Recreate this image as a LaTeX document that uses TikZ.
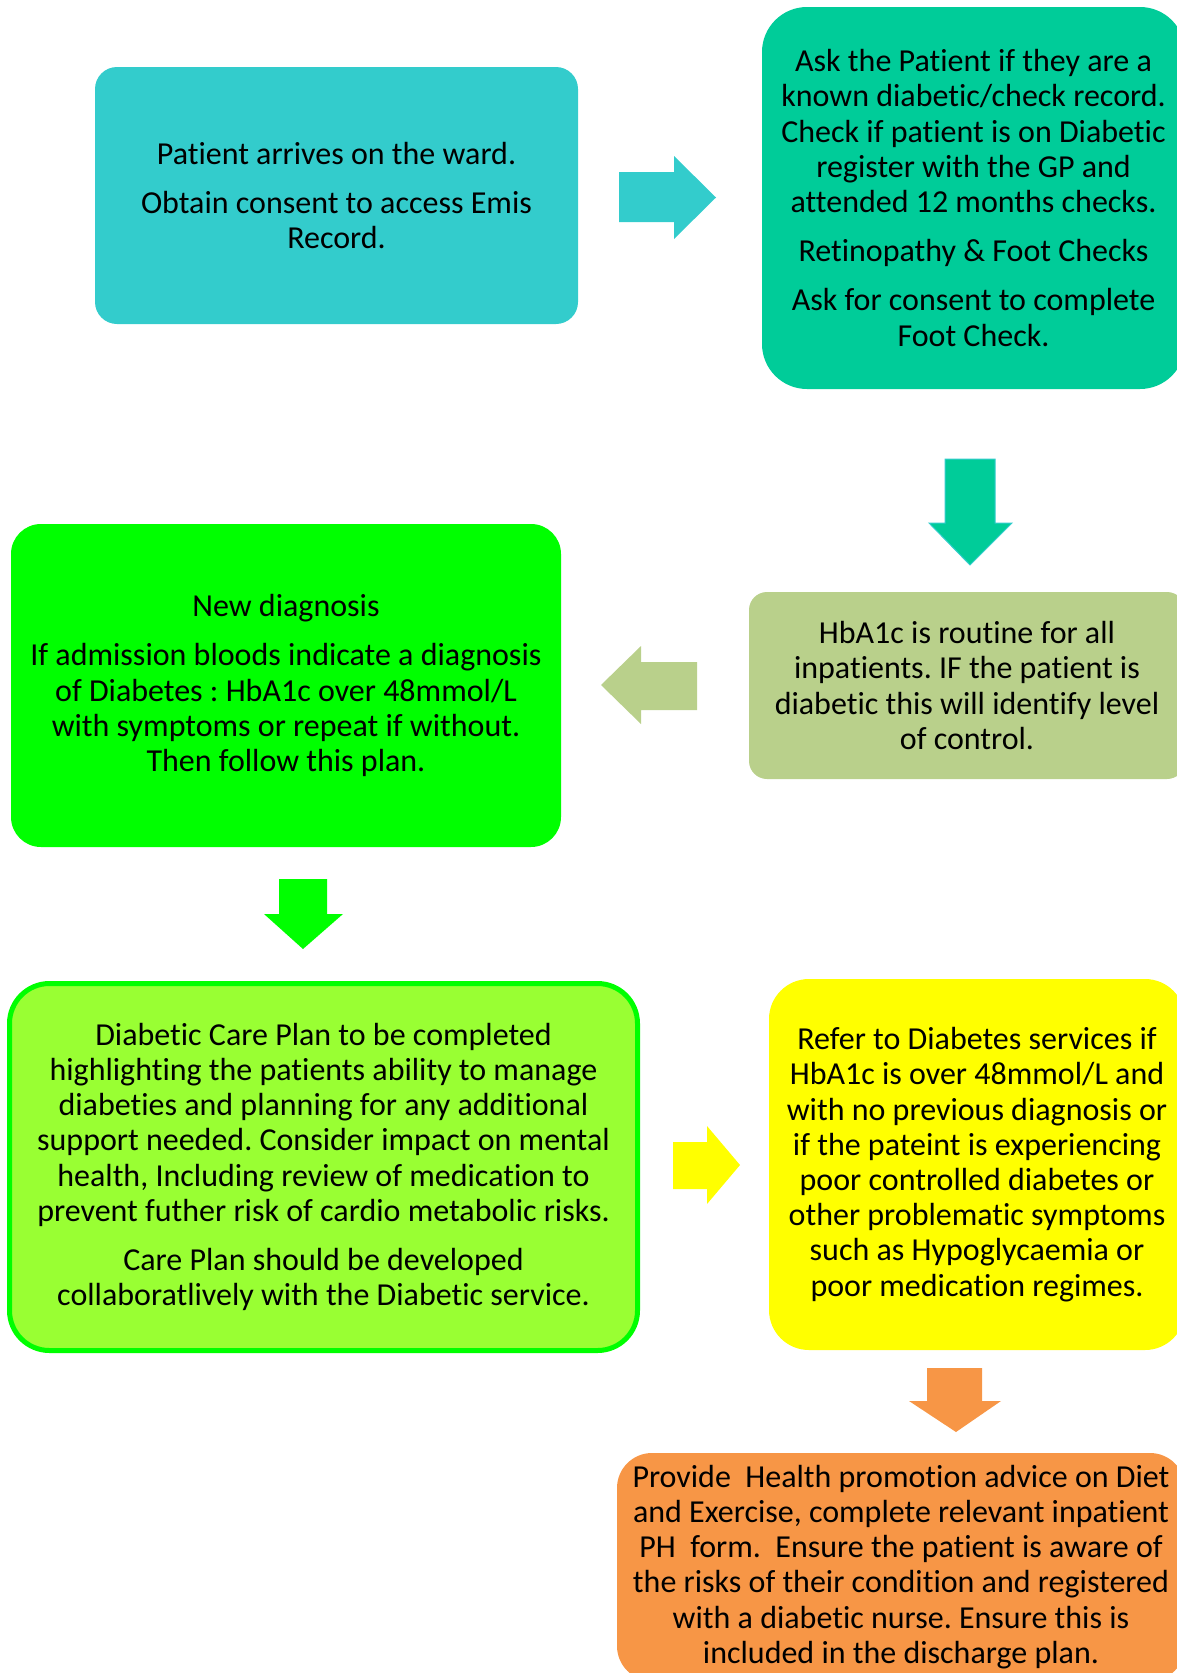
\documentclass[tikz,border=0pt]{standalone}
\usepackage{fontspec}
\setmainfont{Carlito}[Ligatures=NoCommon]
\usetikzlibrary{calc, positioning}

\definecolor{tealbox}{HTML}{33CCCC}
\definecolor{seabox}{HTML}{00CC99}
\definecolor{olivebox}{HTML}{B9D08B}
\definecolor{limebox}{HTML}{00FF00}
\definecolor{grassbox}{HTML}{99FF33}
\definecolor{yellowbox}{HTML}{FFFF00}
\definecolor{orangebox}{HTML}{F79646}

\tikzset{
  stage/.style={rectangle, inner sep=0pt, align=center, text=black,
    font=\fontsize{32}{35.2}\selectfont\frenchspacing},
  blockarr/.style={draw=none}
}

\begin{document}
\begin{tikzpicture}[x=1pt, y=-1pt]
\useasboundingbox (0,0) rectangle (1177,1673);
\clip (0,0) rectangle (1177,1673);

% boxes
\node[stage, fill=tealbox, rounded corners=22pt, minimum width=483pt, minimum height=257pt]
  (arrive) at (336.5,195.5) {Patient arrives on the ward.\\[14pt]
  Obtain consent to access Emis\\Record.};
\node[stage, fill=seabox, rounded corners=45pt, minimum width=423pt, minimum height=382pt]
  (ask) at (973.5,198) {Ask the Patient if they are a\\known diabetic/check record.\\
  Check if patient is on Diabetic\\register with the GP and\\attended 12 months checks.\\[14pt]
  Retinopathy \& Foot Checks\\[14pt]
  Ask for consent to complete\\Foot Check.};
\node[stage, fill=olivebox, rounded corners=18pt, minimum width=436pt, minimum height=187pt]
  (hba) at (967,685.5) {HbA1c is routine for all\\inpatients. IF the patient is\\
  diabetic this will identify level\\of control.};
\node[stage, fill=limebox, rounded corners=30pt, minimum width=550pt, minimum height=323pt]
  (newdiag) at (286,685.5) {New diagnosis\\[14pt]
  If admission bloods indicate a diagnosis\\of Diabetes : HbA1c over 48mmol/L\\
  with symptoms or repeat if without.\\Then follow this plan.};
\node[stage, fill=grassbox, draw=limebox, line width=5pt, rounded corners=40pt,
  minimum width=628pt, minimum height=367pt]
  (careplan) at (323.5,1167) {Diabetic Care Plan to be completed\\
  highlighting the patients ability to manage\\diabeties and planning for any additional\\
  support needed. Consider impact on mental\\health, Including review of medication to\\
  prevent futher risk of cardio metabolic risks.\\[14pt]
  Care Plan should be developed\\collaboratlively with the Diabetic service.};
\node[stage, fill=yellowbox, rounded corners=40pt, minimum width=416pt, minimum height=371pt]
  (refer) at (977,1164.5) {Refer to Diabetes services if\\HbA1c is over 48mmol/L and\\
  with no previous diagnosis or\\if the pateint is experiencing\\poor controlled diabetes or\\
  other problematic symptoms\\such as Hypoglycaemia or\\poor medication regimes.};
\node[stage, fill=orangebox, rounded corners=35pt, minimum width=568pt, minimum height=228pt]
  (promote) at (901,1567) {Provide~ Health promotion advice on Diet\\
  and Exercise, complete relevant inpatient\\PH~ form.~ Ensure the patient is aware of\\
  the risks of their condition and registered\\with a diabetic nurse. Ensure this is\\
  included in the discharge plan.};

% block arrows
\fill[tealbox] (619,172) -- (674,172) -- (674,156) -- (716,197.5) -- (674,239) -- (674,222) -- (619,222) -- cycle;
\filldraw[fill=seabox, draw=tealbox, line width=1pt] (945,459) -- (995,459) -- (995,523) -- (1012,523) -- (970,565) -- (929,523) -- (945,523) -- cycle;
\fill[olivebox] (697,662) -- (641,662) -- (641,646) -- (601,685) -- (641,724) -- (641,710) -- (697,710) -- cycle;
\fill[limebox] (279,879) -- (327,879) -- (327,914) -- (343,914) -- (303,949) -- (264,914) -- (279,914) -- cycle;
\fill[yellowbox] (673,1142) -- (707,1142) -- (707,1126) -- (740,1165) -- (707,1204) -- (707,1189) -- (673,1189) -- cycle;
\fill[orangebox] (927,1368) -- (982,1368) -- (982,1401) -- (1001,1401) -- (956,1432) -- (909,1401) -- (927,1401) -- cycle;
\end{tikzpicture}
\end{document}
